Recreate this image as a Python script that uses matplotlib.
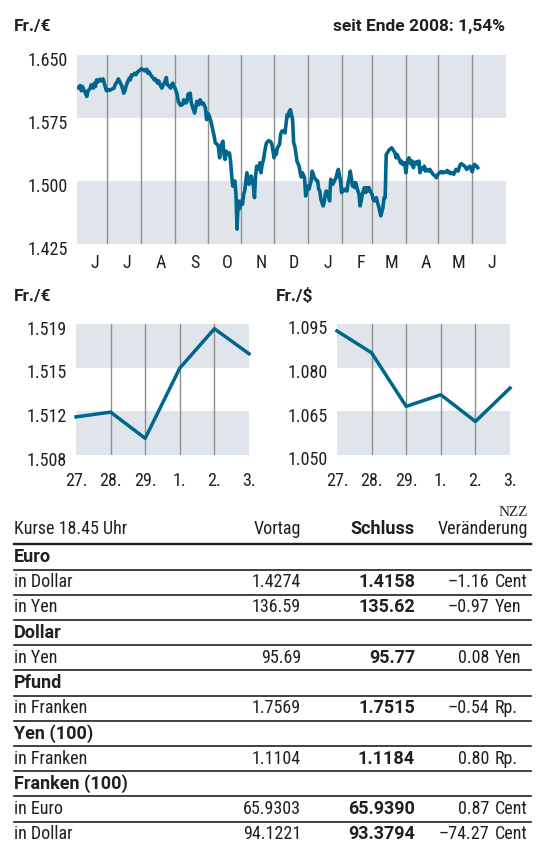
import matplotlib.pyplot as plt
from matplotlib.lines import Line2D
from matplotlib.transforms import ScaledTranslation
import numpy as np
import pandas as pd

plt.rcParams['font.family'] = ['Roboto Condensed', 'Archivo Narrow', 'PT Sans Narrow',
                               'Liberation Sans', 'DejaVu Sans']
BOLD_FAMILY = ['Roboto', 'Roboto Condensed', 'DejaVu Sans']

# --- data -------------------------------------------------------------
# big chart: EUR/CHF, days counted from 1 June 2008
days = [3, 5, 6, 7, 9, 11, 12, 14, 15, 17, 18, 19, 20, 21, 23, 24, 26, 27, 29, 31,
        32, 34, 36, 37, 39, 40, 42, 43, 45, 46, 47, 48, 50, 51, 52, 53, 55, 56, 58, 59,
        61, 63, 64, 66, 67, 68, 70, 72, 73, 74, 76, 77, 79, 80, 81, 83, 84, 85, 86, 88,
        89, 90, 91, 92, 94, 95, 97, 99, 100, 102, 103, 104, 106, 107, 109, 110, 111, 112, 114, 115,
        117, 118, 120, 121, 122, 123, 125, 126, 128, 129, 131, 132, 133, 134, 136, 137, 138, 139, 140, 142,
        143, 144, 145, 147, 148, 149, 150, 151, 153, 154, 155, 156, 158, 159, 160, 161, 162, 164, 165, 166,
        167, 169, 170, 171, 172, 173, 175, 176, 177, 178, 180, 181, 183, 184, 185, 186, 188, 189, 190, 192,
        193, 195, 196, 197, 198, 200, 201, 202, 203, 204, 206, 207, 208, 209, 211, 212, 213, 214, 215, 217,
        218, 219, 220, 222, 223, 224, 225, 226, 228, 229, 230, 231, 233, 234, 235, 236, 237, 239, 240, 241,
        242, 244, 245, 246, 247, 248, 250, 251, 252, 253, 255, 256, 257, 258, 259, 261, 262, 263, 264, 266,
        267, 268, 269, 270, 272, 273, 274, 275, 277, 278, 279, 280, 281, 283, 284, 285, 286, 287, 289, 291,
        293, 294, 295, 296, 298, 299, 300, 301, 303, 304, 305, 306, 307, 309, 310, 311, 312, 314, 315, 316,
        317, 318, 320, 321, 322, 323, 325, 326, 327, 328, 329, 331, 332, 333, 334, 336, 337, 338, 339, 341,
        342, 343, 344, 345, 347, 348, 349, 350, 352, 353, 354, 355, 356, 358, 359, 360, 361, 363, 364, 365,
        366, 367, 369, 370]
eur_chf = [1.6110, 1.6137, 1.6074, 1.6125, 1.6066, 1.6007, 1.6074, 1.6098, 1.6145, 1.6106,
           1.6165, 1.6125, 1.6204, 1.6177, 1.6212, 1.6192, 1.6216, 1.6165, 1.6074, 1.6086,
           1.6078, 1.6094, 1.6106, 1.6145, 1.6185, 1.6216, 1.6165, 1.6137, 1.6046, 1.6074,
           1.6125, 1.6165, 1.6224, 1.6204, 1.6264, 1.6256, 1.6283, 1.6264, 1.6303, 1.6311,
           1.6335, 1.6323, 1.6311, 1.6331, 1.6283, 1.6303, 1.6256, 1.6224, 1.6204, 1.6216,
           1.6165, 1.6192, 1.6125, 1.6106, 1.6137, 1.6192, 1.6232, 1.6145, 1.6137, 1.6106,
           1.6145, 1.6165, 1.6125, 1.6106, 1.6034, 1.5948, 1.5900, 1.5910, 1.5967, 1.5928,
           1.5948, 1.6034, 1.6046, 1.5928, 1.5849, 1.5809, 1.5869, 1.5948, 1.5908, 1.5967,
           1.5916, 1.5928, 1.5869, 1.5730, 1.5809, 1.5790, 1.5710, 1.5651, 1.5533, 1.5454,
           1.5434, 1.5395, 1.5276, 1.5414, 1.5474, 1.5316, 1.5256, 1.5355, 1.5316, 1.5335,
           1.5237, 1.5079, 1.4940, 1.5000, 1.4842, 1.4427, 1.4763, 1.4664, 1.4763, 1.4723,
           1.4842, 1.4881, 1.5098, 1.5039, 1.4960, 1.5019, 1.5059, 1.4940, 1.4802, 1.5059,
           1.5177, 1.5138, 1.5217, 1.5098, 1.5197, 1.5237, 1.5395, 1.5454, 1.5466, 1.5481,
           1.5466, 1.5434, 1.5276, 1.5355, 1.5316, 1.5395, 1.5434, 1.5553, 1.5592, 1.5600,
           1.5572, 1.5790, 1.5770, 1.5829, 1.5849, 1.5730, 1.5454, 1.5414, 1.5335, 1.5237,
           1.5177, 1.5098, 1.5047, 1.5098, 1.5039, 1.4822, 1.4881, 1.4940, 1.4901, 1.5000,
           1.5118, 1.5079, 1.5039, 1.5007, 1.5000, 1.4901, 1.4881, 1.4782, 1.4703, 1.4743,
           1.4842, 1.4881, 1.4822, 1.4763, 1.5019, 1.4980, 1.4960, 1.5019, 1.5039, 1.5098,
           1.5138, 1.5000, 1.4862, 1.4901, 1.4881, 1.4901, 1.4881, 1.4980, 1.5039, 1.5118,
           1.4940, 1.4980, 1.4921, 1.4980, 1.4921, 1.4842, 1.4703, 1.4763, 1.4842, 1.4921,
           1.4862, 1.4921, 1.4881, 1.4921, 1.4862, 1.4842, 1.4782, 1.4763, 1.4802, 1.4743,
           1.4703, 1.4644, 1.4585, 1.4684, 1.4802, 1.4802, 1.5316, 1.5335, 1.5375, 1.5395,
           1.5355, 1.5335, 1.5276, 1.5316, 1.5256, 1.5217, 1.5237, 1.5197, 1.5217, 1.5098,
           1.5197, 1.5256, 1.5276, 1.5197, 1.5237, 1.5158, 1.5217, 1.5229, 1.5197, 1.5237,
           1.5098, 1.5158, 1.5138, 1.5177, 1.5118, 1.5138, 1.5118, 1.5138, 1.5118, 1.5098,
           1.5079, 1.5059, 1.5039, 1.5071, 1.5087, 1.5110, 1.5098, 1.5110, 1.5098, 1.5110,
           1.5126, 1.5098, 1.5110, 1.5087, 1.5098, 1.5079, 1.5110, 1.5138, 1.5118, 1.5158,
           1.5197, 1.5205, 1.5197, 1.5177, 1.5158, 1.5138, 1.5158, 1.5177, 1.5138, 1.5110,
           1.5158, 1.5197, 1.5177, 1.5158]
month_letters = ['J', 'J', 'A', 'S', 'O', 'N', 'D', 'J', 'F', 'M', 'A', 'M', 'J']
big_ticks = [1.425, 1.500, 1.575, 1.650]

# small charts: last six trading days
day_labels = ['27.', '28.', '29.', '1.', '2.', '3.']
chf_eur_5d = [1.5112, 1.5116, 1.5094, 1.5153, 1.5186, 1.5165]
chf_usd_5d = [1.0926, 1.0851, 1.0667, 1.0707, 1.0615, 1.0730]

# table
row_labels = ['Euro', 'in Dollar', 'in Yen', 'Dollar', 'in Yen', 'Pfund', 'in Franken',
              'Yen (100)', 'in Franken', 'Franken (100)', 'in Euro', 'in Dollar']
vortag = ['', '1.4274', '136.59', '', '95.69', '', '1.7569', '', '1.1104', '', '65.9303', '94.1221']
schluss = ['', '1.4158', '135.62', '', '95.77', '', '1.7515', '', '1.1184', '', '65.9390', '93.3794']
change = ['', '–1.16', '–0.97', '', '0.08', '', '–0.54', '', '0.80', '', '0.87', '–74.27']
units = ['', 'Cent', 'Yen', '', 'Yen', '', 'Rp.', '', 'Rp.', '', 'Cent', 'Cent']

# --- style ------------------------------------------------------------
W, H = 537, 846
INK = '#231f20'
BLUE = '#00668e'
BAND = '#dfe5eb'
GRID = '#8f8f8f'
FS = 13

fig = plt.figure(figsize=(W / 100, H / 100), dpi=100)


def px_box(x0, y0, x1, y1):
    return [x0 / W, 1 - y1 / H, (x1 - x0) / W, (y1 - y0) / H]


def shift_ylabels(ax, dy_px):
    off = ScaledTranslation(0, -dy_px / 100, fig.dpi_scale_trans)
    for lab in ax.get_yticklabels():
        lab.set_transform(lab.get_transform() + off)


def clean(ax, xpad, ypad):
    for s in ax.spines.values():
        s.set_visible(False)
    ax.tick_params(axis='both', length=0, labelsize=FS, colors=INK)
    ax.tick_params(axis='x', pad=xpad)
    ax.tick_params(axis='y', pad=ypad)


def btext(x, y, s, **kw):
    fig.text(x / W, 1 - y / H, s, family=BOLD_FAMILY, fontweight='bold', color=INK,
             va='center', **kw)


# --- big chart --------------------------------------------------------
start = pd.Timestamp('2008-06-01')
dates = start + pd.to_timedelta(days, unit='D')
month_starts = pd.date_range('2008-07-01', '2009-06-01', freq='MS')
label_pos = pd.date_range('2008-06-01', '2009-06-01', freq='MS') + pd.Timedelta(days=18)

ax = fig.add_axes(px_box(77, 55, 506, 244))
ax.axhspan(1.575, 1.650, color=BAND, lw=0, zorder=0)
ax.axhspan(1.425, 1.500, color=BAND, lw=0, zorder=0)
for m in month_starts:
    ax.axvline(m, color=GRID, lw=1.0, zorder=1)
ax.plot(dates, eur_chf, color=BLUE, lw=2.6, zorder=3)
ax.set_xlim(pd.Timestamp('2008-06-03'), pd.Timestamp('2009-07-02'))
ax.set_ylim(1.425, 1.650)
ax.set_yticks(big_ticks)
ax.set_yticklabels([f'{t:.3f}' for t in big_ticks])
ax.set_xticks(label_pos)
ax.set_xticklabels(month_letters)
clean(ax, 7.5, 6.5)
shift_ylabels(ax, 4)

btext(14, 27, 'Fr./€', fontsize=12.5)
btext(505, 27, 'seit Ende 2008: 1,54%', fontsize=12.5, ha='right')


# --- small charts -----------------------------------------------------
def small_chart(box, values, lo, hi, title, title_x):
    a = fig.add_axes(px_box(*box))
    ticks = np.linspace(lo, hi, 4)
    a.axhspan(ticks[2], ticks[3], color=BAND, lw=0, zorder=0)
    a.axhspan(ticks[0], ticks[1], color=BAND, lw=0, zorder=0)
    for i in range(1, len(day_labels) - 1):
        a.axvline(i, color=GRID, lw=1.0, zorder=1)
    a.plot(range(len(values)), values, color=BLUE, lw=2.5, zorder=3, clip_on=False)
    a.set_xlim(0, len(values) - 1)
    a.set_ylim(lo, hi)
    a.set_yticks(ticks)
    a.set_yticklabels([f'{t:.3f}' for t in ticks])
    a.set_xticks(range(len(day_labels)))
    a.set_xticklabels(day_labels)
    clean(a, 12, 6.5)
    shift_ylabels(a, 3.5)
    btext(title_x, 296, title, fontsize=12.5)
    return a


small_chart((76, 324, 249, 455), chf_eur_5d, 1.508, 1.519, 'Fr./€', 14)
small_chart((337, 324, 510, 455), chf_usd_5d, 1.050, 1.095, 'Fr./$', 276)

# --- table ------------------------------------------------------------
fig.text(528 / W, 1 - 512 / H, 'NZZ', family='Liberation Serif', fontsize=11,
         color=INK, ha='right', va='center')

hy = 529
fig.text(14 / W, 1 - hy / H, 'Kurse 18.45 Uhr', fontsize=FS, color=INK, va='center')
fig.text(301 / W, 1 - hy / H, 'Vortag', fontsize=FS, color=INK, va='center', ha='right')
btext(415, hy, 'Schluss', fontsize=FS, ha='right')
fig.text(528 / W, 1 - hy / H, 'Veränderung', fontsize=FS, color=INK, va='center', ha='right')
fig.add_artist(Line2D([14 / W, 531 / W], [1 - 544 / H] * 2, color=INK, lw=1.7))

row_h = 25.2
for i, lab in enumerate(row_labels):
    y = 557 + i * row_h
    yc = 1 - y / H
    group = vortag[i] == ''
    if group:
        btext(14, y, lab, fontsize=FS)
    else:
        fig.text(14 / W, yc, lab, fontsize=FS, color=INK, va='center')
        fig.text(301 / W, yc, vortag[i], fontsize=FS, color=INK, va='center', ha='right')
        btext(415, y, schluss[i], fontsize=FS, ha='right')
        fig.text(489 / W, yc, change[i], fontsize=FS, color=INK, va='center', ha='right')
        fig.text(495 / W, yc, units[i], fontsize=FS, color=INK, va='center', ha='left')
    if i < len(row_labels) - 1:
        ly = 1 - (569.6 + i * row_h) / H
        fig.add_artist(Line2D([14 / W, 531 / W], [ly, ly], color=INK, lw=1.2))

fig.savefig('out.png', dpi=100)
